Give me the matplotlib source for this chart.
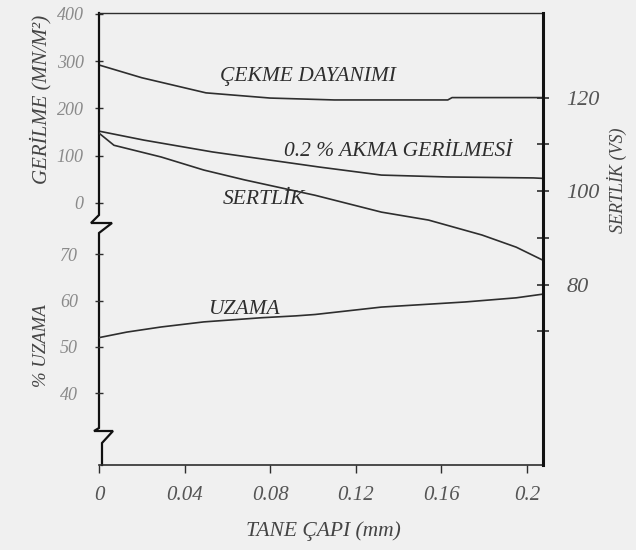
import matplotlib.pyplot as plt

# grain size (mm) vs. properties
cekme_x = [0, 0.02, 0.05, 0.08, 0.11, 0.163, 0.165, 0.2075]
cekme_y = [292, 265, 233, 222, 218, 218, 223, 223]          # MN/m2

akma_x = [0, 0.021, 0.053, 0.103, 0.132, 0.163, 0.203, 0.2075]
akma_y = [152, 133, 108, 76, 59, 55, 53, 52]                 # MN/m2

sertlik_x = [0, 0.007, 0.029, 0.049, 0.068, 0.101, 0.132, 0.154, 0.179, 0.195, 0.2075]
sertlik_y = [112.4, 109.8, 107.3, 104.5, 102.4, 99.1, 95.5, 93.8, 90.6, 88.0, 85.2]   # VS

uzama_x = [0, 0.013, 0.029, 0.049, 0.076, 0.092, 0.101, 0.132, 0.171, 0.195, 0.2075]
uzama_y = [52.0, 53.2, 54.3, 55.4, 56.3, 56.7, 57.0, 58.6, 59.7, 60.6, 61.4]  # %

x_ticks = [0, 0.04, 0.08, 0.12, 0.16, 0.2]
x_tick_labels = ["0", "0.04", "0.08", "0.12", "0.16", "0.2"]
stress_ticks = [0, 100, 200, 300, 400]
uzama_ticks = [40, 50, 60, 70]
sertlik_ticks = [80, 100, 120]
sertlik_minor = [70, 90, 110]

FONT = "Liberation Serif"
INK = "#2e2e2e"
FADED = "#8a8a8a"
BG = "#f0f0f0"

W, H = 636, 550
L, R, T, B = 99, 543, 13, 465  # axes box in pixels


def px(x, y):
    """pixel position -> axes fraction"""
    return (x - L) / (R - L), (B - y) / (B - T)


fig = plt.figure(figsize=(W / 100, H / 100), dpi=100, facecolor=BG)
ax = fig.add_axes([L / W, 1 - B / H, (R - L) / W, (B - T) / H])
ax.set_facecolor(BG)

# upper scale (stress), lower scale (elongation) on the left, hardness on the right
ax_u = ax.twinx()
ax_s = ax.twinx()

ax.set_xlim(0, 0.2075)
ax.set_ylim(-554.5, 402)
ax_u.set_ylim(24.5, 122.1)
ax_s.set_ylim(41.4, 138.1)

ax.plot(cekme_x, cekme_y, color=INK, lw=1.2)
ax.plot(akma_x, akma_y, color=INK, lw=1.2)
ax_s.plot(sertlik_x, sertlik_y, color=INK, lw=1.2)
ax_u.plot(uzama_x, uzama_y, color=INK, lw=1.2)

for a in (ax, ax_u, ax_s):
    for side in ("left", "right", "bottom", "top"):
        a.spines[side].set_visible(False)
    a.patch.set_visible(False)

ax.spines["bottom"].set_visible(True)
ax.spines["bottom"].set_bounds(0, 0.2075)
ax.spines["bottom"].set_color(INK)
ax.spines["bottom"].set_linewidth(1.2)
ax.spines["top"].set_visible(True)
ax.spines["top"].set_color(INK)
ax.spines["top"].set_linewidth(1.0)
ax_s.spines["right"].set_visible(True)
ax_s.spines["right"].set_color("#111111")
ax_s.spines["right"].set_linewidth(2.2)

# broken left axis drawn as a path in axes fraction
spine_px = [(L, T), (L, 215), (91, 223), (112, 223), (L, 233), (L, 428),
            (94, 431), (113, 431), (102, 443), (102, B)]
sx, sy = zip(*[px(x, y) for x, y in spine_px])
ax.plot(sx, sy, transform=ax.transAxes, color="#111111", lw=1.6, clip_on=False,
        solid_joinstyle="miter")

# x axis
ax.set_xticks(x_ticks)
ax.set_xticklabels(x_tick_labels)
ax.tick_params(axis="x", direction="out", length=6, width=1, color=INK, pad=9,
               labelsize=15, labelcolor="#555555")

# stress ticks
ax.set_yticks(stress_ticks)
ax.set_yticklabels([str(v) for v in stress_ticks])
ax.tick_params(axis="y", left=True, right=False, direction="inout", length=6, width=1,
               color=INK, pad=8, labelsize=13, labelcolor=FADED)

# elongation ticks, also on the left side
ax_u.yaxis.set_ticks_position("left")
ax_u.set_yticks(uzama_ticks)
ax_u.set_yticklabels([str(v) for v in uzama_ticks])
ax_u.tick_params(axis="y", direction="inout", length=6, width=1, color=INK, pad=12,
                 labelsize=13, labelcolor=FADED)

# hardness ticks on the right
ax_s.set_yticks(sertlik_ticks)
ax_s.set_yticks(sertlik_minor, minor=True)
ax_s.set_yticklabels([str(v) for v in sertlik_ticks])
ax_s.tick_params(axis="y", which="both", direction="inout", length=8, width=1.2,
                 color=INK, pad=13, labelsize=16, labelcolor="#555555")

for a in (ax, ax_u, ax_s):
    for lab in a.get_xticklabels() + a.get_yticklabels():
        lab.set_fontfamily(FONT)
        lab.set_fontstyle("italic")

label_kw = dict(family=FONT, style="italic", color="#444444")
ax.set_xlabel("TANE ÇAPI (mm)", fontsize=15.5, **label_kw)
ax.xaxis.set_label_coords(*px(323, 531))
ax.xaxis.label.set_va("center")

ax.set_ylabel("GERİLME (MN/M²)", fontsize=15, **label_kw)
ax.yaxis.set_label_coords(*px(41, 99))
ax.yaxis.label.set_va("center")

ax_u.yaxis.set_label_position("left")
ax_u.set_ylabel("% UZAMA", fontsize=13.5, **label_kw)
ax_u.yaxis.set_label_coords(*px(41, 346))
ax_u.yaxis.label.set_va("center")

ax_s.set_ylabel("SERTLİK (VS)", fontsize=13, **label_kw)
ax_s.yaxis.set_label_coords(*px(617, 180))
ax_s.yaxis.label.set_va("center")

# curve names
note_kw = dict(transform=ax.transAxes, family=FONT, style="italic", color=INK,
               fontsize=15.5, ha="center", va="center")
ax.text(*px(308, 76), "ÇEKME DAYANIMI", **note_kw)
ax.text(*px(398, 152), "0.2 % AKMA GERİLMESİ", **note_kw)
ax.text(*px(264, 200), "SERTLİK", **note_kw)
ax.text(*px(244, 309), "UZAMA", **note_kw)

fig.savefig("out.png", dpi=100, facecolor=BG)
